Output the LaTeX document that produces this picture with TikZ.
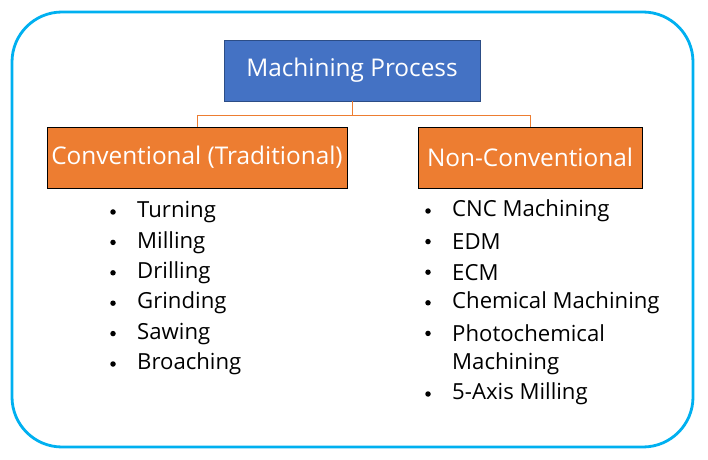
\documentclass[tikz,border=0pt]{standalone}
\usepackage{fontspec}
\setmainfont{Open Sans}
\usetikzlibrary{positioning}
\definecolor{frame}{RGB}{0,176,240}
\definecolor{procblue}{RGB}{68,114,196}
\definecolor{procorange}{RGB}{237,125,49}
\begin{document}
\begin{tikzpicture}
[x=0.03cm, y=-0.03cm,
% STYLES
% boxes of the tree
head/.style={rectangle, draw={rgb:red,47;green,82;blue,143}, line width=0.8pt, fill=procblue, text=white, minimum width=256*0.03cm, minimum height=61*0.03cm, inner sep=0pt, font=\fontsize{20.8}{24}\selectfont},
branch/.style={rectangle, draw=black, line width=0.6pt, fill=procorange, text=white, minimum height=61*0.03cm, inner sep=0pt, font=\fontsize{20.8}{24}\selectfont},
% list entries under each branch
item/.style={anchor=west, inner sep=0pt, font=\fontsize{18.9}{22}\selectfont},
dot/.style={circle, fill=black, inner sep=0pt, minimum size=5.5*0.03cm},
link/.style={draw=procorange, line width=0.5pt}]

\useasboundingbox (0,0) rectangle (708,460);
\draw[frame, line width=2.4pt, rounded corners=50*0.03cm] (12,12) rectangle (693,447);

% Draw boxes
\node [head] (process) at (352,70.5) {Machining Process};
\node [branch, minimum width=300*0.03cm] (conv) at (197,157.5) {Conventional (Traditional)};
\node [branch, minimum width=224*0.03cm] (nonconv) at (530,157.5) {Non-Conventional};

% connectors
\coordinate (split) at (352,115);
\draw[link] (process.south) -- (split);
\draw[link] (split) -| (conv.north);
\draw[link] (split) -| (nonconv.north);

% lists
\foreach \txt [count=\i] in {Turning, Milling, Drilling, Grinding, Sawing, Broaching} {
  \node [item] (conv-\i) at (137,212+30.4*\i-30.4) {\txt};
  \node [dot] at (113,212+30.4*\i-30.4) {};
}
\foreach \txt [count=\i] in {CNC Machining, EDM, ECM, Chemical Machining, Photochemical} {
  \node [item] (non-\i) at (452,211+30.6*\i-30.6) {\txt};
  \node [dot] at (428,211+30.6*\i-30.6) {};
}
\node [item] (non-5b) at (452,364) {Machining};
\node [item] (non-6) at (452,394) {5-Axis Milling};
\node [dot] at (428,394) {};

\end{tikzpicture}
\end{document}
